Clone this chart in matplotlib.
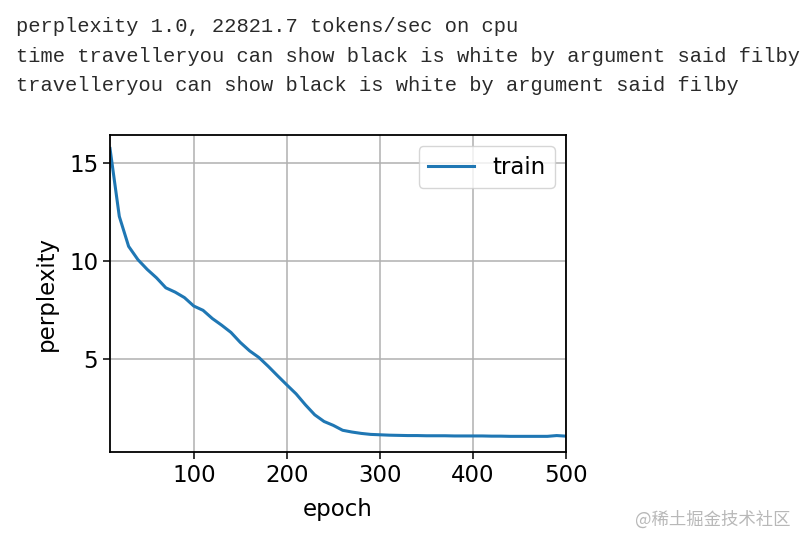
import matplotlib
matplotlib.use('Agg')
import matplotlib.pyplot as plt

# 训练日志文本
log_lines = [
    'perplexity 1.0, 22821.7 tokens/sec on cpu',
    'time travelleryou can show black is white by argument said filby',
    'travelleryou can show black is white by argument said filby',
]

# 每10个epoch记录一次困惑度
epochs = list(range(10, 501, 10))
ppl = [15.76, 12.29, 10.76, 10.08, 9.58, 9.15, 8.64, 8.42, 8.14, 7.71,
       7.49, 7.07, 6.73, 6.36, 5.85, 5.42, 5.08, 4.63, 4.15, 3.68,
       3.22, 2.66, 2.15, 1.81, 1.61, 1.36, 1.27, 1.20, 1.15, 1.13,
       1.11, 1.10, 1.09, 1.09, 1.08, 1.08, 1.08, 1.07, 1.07, 1.07,
       1.07, 1.06, 1.06, 1.05, 1.05, 1.05, 1.05, 1.05, 1.09, 1.06]

fig = plt.figure(figsize=(8.05, 5.46), dpi=100)

for i, line in enumerate(log_lines):
    fig.text(16 / 805, 1 - (32 + 29.5 * i) / 546, line, family='Liberation Mono',
             fontsize=14.65, color='#2a2a2a', va='baseline', ha='left')

ax = fig.add_axes([110 / 805, 1 - 452 / 546, 456 / 805, 317 / 546])
ax.plot(epochs, ppl, color='#1f77b4', lw=2.2, label='train')
ax.set_xlim(10, 500)
ax.set_ylim(0.25, 16.45)
ax.set_xticks([100, 200, 300, 400, 500])
ax.set_yticks([5, 10, 15])
ax.grid(True, color='#b0b0b0', lw=1.1)
ax.tick_params(labelsize=16.5, length=5, width=1.1)
for s in ax.spines.values():
    s.set_linewidth(1.3)
ax.set_xlabel('epoch', fontsize=16.5, labelpad=8)
ax.set_ylabel('perplexity', fontsize=16.5, labelpad=8)
ax.legend(loc='upper right', fontsize=16.5, handlelength=2.0, borderpad=0.4)

fig.text(790 / 805, 1 - 520 / 546, '@稀土掘金技术社区', family=['Noto Sans CJK SC', 'DejaVu Sans'],
         fontsize=12.5, color='#b8b8b8', ha='right', va='center')

fig.savefig('out.png', dpi=100)
